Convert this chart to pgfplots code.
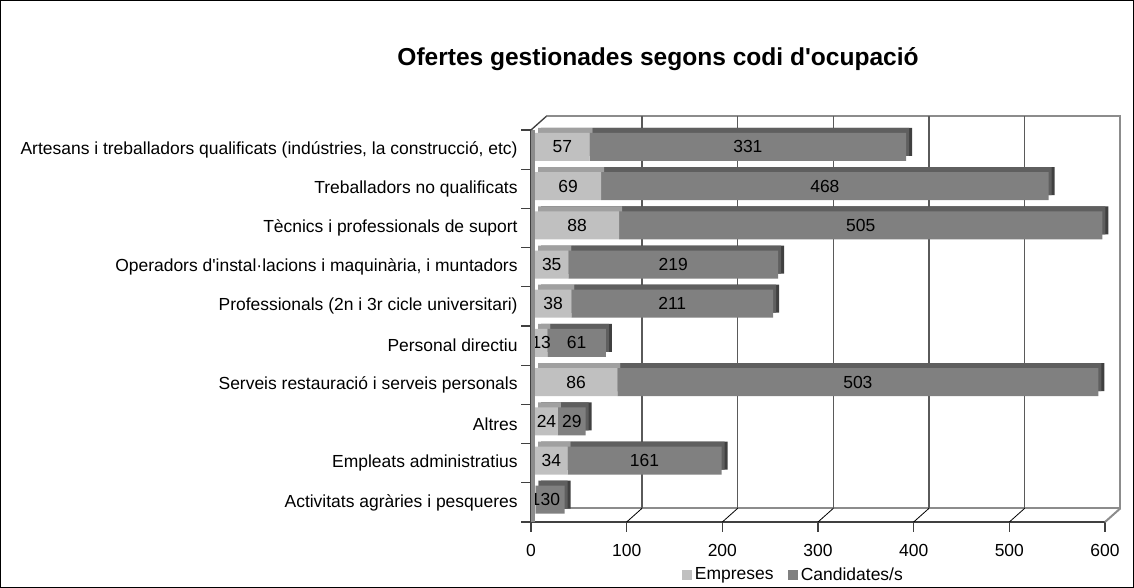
\documentclass[border=0pt]{standalone}
\usepackage{fontspec}
\setmainfont{Liberation Sans}
\usepackage{pgfplots}
\pgfplotsset{compat=1.18}
\usepackage{pgfplotstable}

\definecolor{cE}{HTML}{C0C0C0}
\definecolor{cEtop}{HTML}{A0A0A0}
\definecolor{cC}{HTML}{808080}
\definecolor{cCtop}{HTML}{5F5F5F}
\definecolor{cCside}{HTML}{404040}
\definecolor{wallc}{HTML}{8C8C8C}
\definecolor{gridc}{HTML}{5A5A5A}
\definecolor{axc}{HTML}{404040}

\newcommand\lab{\fontsize{13.1pt}{15pt}\selectfont}

% y = 0 is the bottom row; e = Empreses, c = Candidates/s
\pgfplotstableread{
y e c
0 1 30
1 34 161
2 24 29
3 86 503
4 13 61
5 38 211
6 35 219
7 88 505
8 69 468
9 57 331
}\ofertes

\pgfplotsset{
  bars/.style={scale only axis, width=430.5pt, height=294pt,
    xmin=0, xmax=600, ymin=-0.5, ymax=9.5, hide axis, clip=false,
    anchor=south west, xbar stacked, bar width=21pt},
}

\begin{document}
\begin{tikzpicture}
\useasboundingbox (0,0) rectangle (850.5pt,441pt);
\draw[line width=0.8pt] (0.4pt,0.4pt) rectangle (850.1pt,440.6pt);
\node[font=\fontsize{18.4pt}{22pt}\selectfont\bfseries] at (493.5pt,396.5pt)
  {Ofertes gestionades segons codi d\textquotesingle ocupació};

% back wall and grid
\begin{axis}[bars, at={(409.75pt,59.75pt)}]
\pgfplotsinvokeforeach{100,200,300,400,500}{
  \draw[gridc, line width=0.9pt] (axis cs:#1,-0.5) -- (axis cs:#1,9.5);}
\draw[wallc, line width=1.5pt] (rel axis cs:0,1) -- (rel axis cs:1,1)
  -- (rel axis cs:1,0) -- (rel axis cs:0,0);
\end{axis}

% bar depth: side faces, then top faces
\begin{axis}[bars, at={(405.75pt,55.25pt)}]
\addplot[fill=cCside, draw=none] table[x=e, y=y]{\ofertes};
\addplot[fill=cCside, draw=none] table[x=c, y=y]{\ofertes};
\end{axis}
\begin{axis}[bars, at={(403.5pt,55.25pt)}]
\addplot[fill=cEtop, draw=none] table[x=e, y=y]{\ofertes};
\addplot[fill=cCtop, draw=none] table[x=c, y=y]{\ofertes};
\end{axis}

% front faces with values (stacked nodes near coords sit mid-segment)
\begin{axis}[bars, at={(401.25pt,51.5pt)},
  /pgf/number format/assume math mode=true,
  nodes near coords,
  every node near coord/.append style={font=\lab, anchor=center, text=black}]
\addplot[fill=cE, draw=none, point meta=explicit]
  table[x=e, y=y, meta=e]{\ofertes};
\addplot[fill=cC, draw=none, point meta=explicit]
  table[x=c, y=y, meta=c]{\ofertes};
\end{axis}

% front axis, labels, floor, legend
\begin{axis}[scale only axis, width=430.5pt, height=294pt,
  at={(398.25pt,49.5pt)}, anchor=south west,
  xmin=0, xmax=600, ymin=-0.5, ymax=9.5, clip=false,
  axis x line*=bottom, axis y line*=left,
  x axis line style={axc, line width=1.5pt},
  y axis line style={axc, line width=1pt},
  xtick={0,100,...,600},
  ytick={-0.5,0.5,...,9.5},
  y tick label as interval,
  yticklabels={
    Activitats agràries i pesqueres,
    Empleats administratius,
    Altres,
    Serveis restauració i serveis personals,
    Personal directiu,
    Professionals (2n i 3r cicle universitari),
    {Operadors d\textquotesingle instal·lacions i maquinària, i muntadors},
    Tècnics i professionals de suport,
    Treballadors no qualificats,
    {Artesans i treballadors qualificats (indústries, la construcció, etc)}},
  tick align=outside, major tick length=7.5pt,
  tick style={axc, line width=0.8pt},
  ticklabel style={font=\lab},
  xticklabel style={yshift=-5.5pt},
  yticklabel style={xshift=1pt},
  /pgf/number format/assume math mode=true,
  legend style={at={(0.263,-0.135)}, anchor=west, draw=none, fill=none,
    legend columns=2, font=\lab, inner sep=0pt,
    /tikz/every even column/.append style={column sep=9pt}},
  legend image code/.code={\fill[#1, draw=none] (0pt,-3.75pt) rectangle (7.5pt,3.75pt);},
]
\addlegendimage{fill=cE}
\addlegendentry{Empreses}
\addlegendimage{fill=cC}
\addlegendentry{Candidates/s}
\fill[wallc] (axis cs:0,-0.5) rectangle ([xshift=3pt]axis cs:0,9.5);
\pgfplotsinvokeforeach{100,200,300,400,500}{
  \draw[black, line width=0.6pt] (axis cs:#1,-0.5) -- ++(11.5pt,10.25pt);}
\draw[wallc, line width=1.5pt] (axis cs:600,-0.5) -- ++(11.5pt,10.25pt);
\draw[axc, line width=1pt] (axis cs:0,9.5) -- ++(11.5pt,10.25pt);
\end{axis}
\end{tikzpicture}
\end{document}
